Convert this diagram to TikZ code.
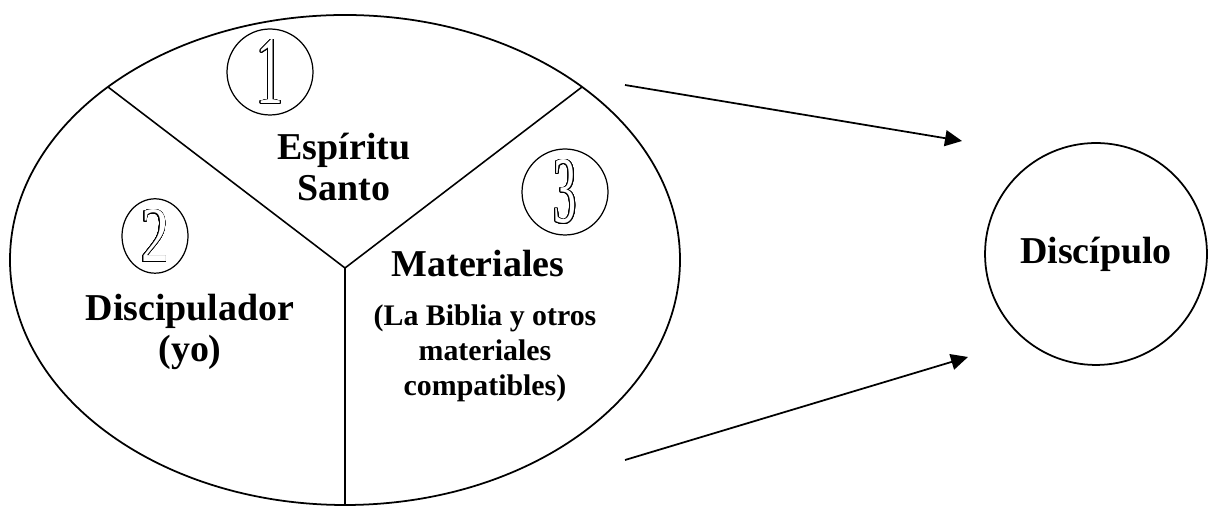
\documentclass[tikz,border=0pt]{standalone}
\usepackage{fontspec}
\setmainfont{Liberation Serif}
\usepackage{contour}
\contourlength{0.35pt}
\contournumber{32}
\usetikzlibrary{arrows.meta,shapes.geometric}
\newcommand{\ringdigit}[3]{{\color{white}\contour{black}{\resizebox{#1}{#2}{#3}}}}
\begin{document}
\begin{tikzpicture}[x=0.02cm,y=0.02cm,
	biglabel/.style={font=\fontsize{21.6}{23.5}\selectfont\bfseries,align=center,inner sep=0pt},
	smalllabel/.style={font=\fontsize{17}{19.9}\selectfont\bfseries,align=center,inner sep=0pt},
	ring/.style={draw,line width=0.7pt,inner sep=0pt},
	pointer/.style={line width=1pt,-{Triangle[length=0.34cm,width=0.32cm]}}]
	\useasboundingbox (0,0) rectangle (1210,506);
	% big ellipse, cut in three
	\draw[line width=1pt] (345,246) ellipse [x radius=335,y radius=245];
	\coordinate (mid) at (345,238);
	\coordinate (upleft) at (108,419);
	\coordinate (upright) at (582,419);
	\coordinate (low) at (345,1);
	\draw[line width=0.9pt] (upleft) -- (mid) -- (upright);
	\draw[line width=0.9pt] (mid) -- (low);
	% numbers
	\node[ring,circle,minimum size=1.72cm] (one) at (270,434) {\ringdigit{0.54cm}{1.28cm}{1}};
	\node[ring,ellipse,minimum width=1.32cm,minimum height=1.48cm] (two) at (155,270) {\ringdigit{0.56cm}{1.04cm}{2}};
	\node[ring,circle,minimum size=1.72cm] (three) at (565,314) {\ringdigit{0.46cm}{1.26cm}{3}};
	% labels
	\node[biglabel] (spirit) at (344,339) {Espíritu\\Santo};
	\node[biglabel] (mentor) at (190,174) {Discipulador\\(yo)};
	\node[biglabel,anchor=base] (material) at (478,229) {Materiales};
	\node[smalllabel] (bible) at (485,153) {(La Biblia y otros\\materiales\\compatibles)};
	% disciple
	\node[biglabel,draw,circle,line width=1pt,minimum size=4.44cm] (disc) at (1096,252) {Discípulo};
	\coordinate (from1) at (625,421);
	\coordinate (to1) at (962,365);
	\coordinate (from2) at (625,46);
	\coordinate (to2) at (968,149);
	\foreach \s/\t in {from1/to1,from2/to2}
		\draw[pointer] (\s) -- (\t);
\end{tikzpicture}
\end{document}
